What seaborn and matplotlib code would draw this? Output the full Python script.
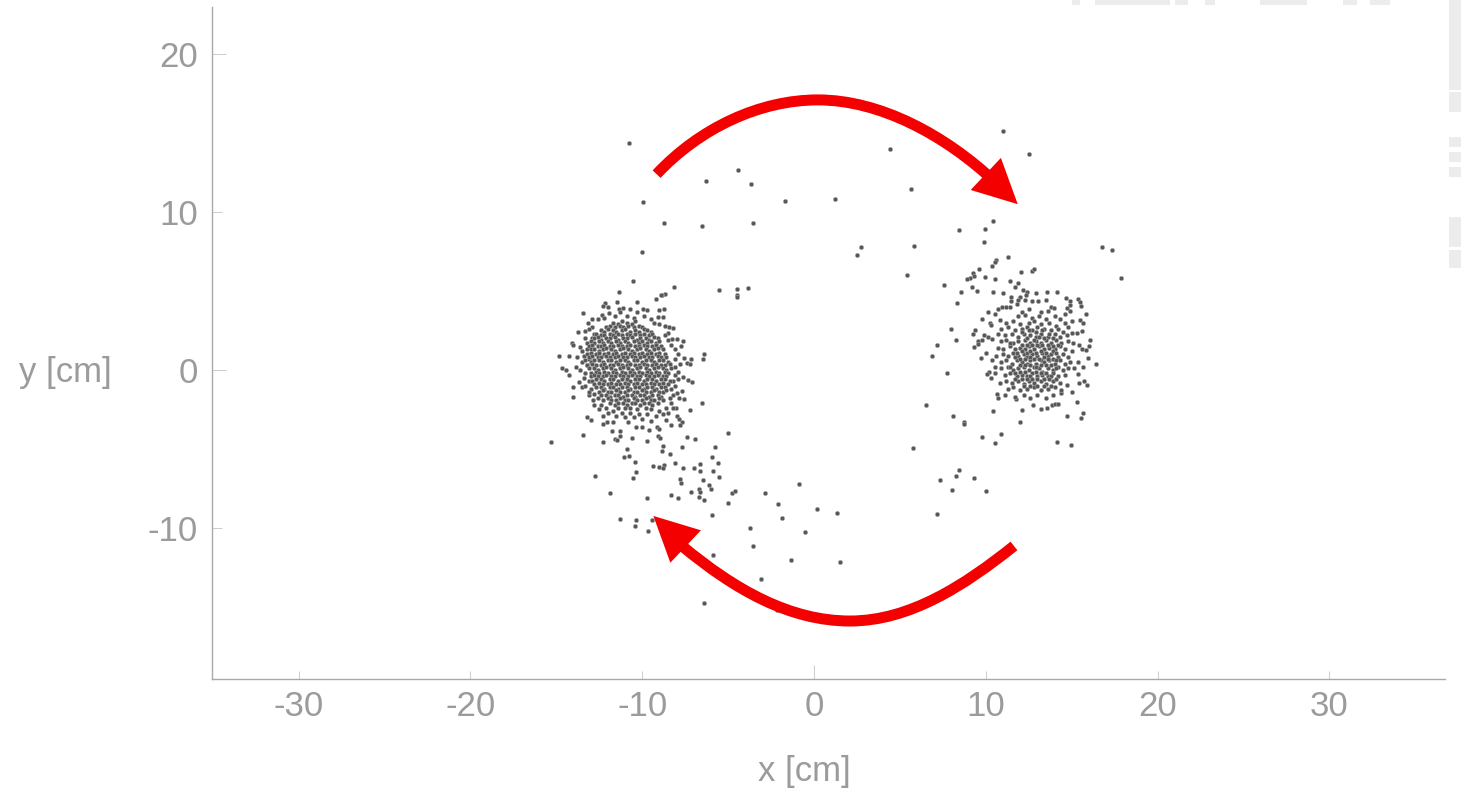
import matplotlib
matplotlib.use("Agg")
import matplotlib.pyplot as plt
from matplotlib.patches import PathPatch, Polygon, Rectangle
from matplotlib.path import Path
import pandas as pd
import seaborn as sns

# --- values (cm) ---
upper_sparse = [(-10.77,14.39),(4.42,13.97),(11.02,15.1),(12.51,13.65),(-6.29,11.96),(-4.4,12.66),(-3.67,11.77),
(-9.97,10.61),(-1.71,10.72),(1.22,10.82),(5.66,11.47),(-8.71,9.3),(-6.5,9.13),(-3.53,9.28),(8.44,8.86),(9.94,8.94),
(10.4,9.43),(9.88,8.12),(2.72,7.76),(2.52,7.26),(5.8,7.85),(-10.01,7.47),(16.78,7.78),(17.33,7.6),(17.87,5.84),
(5.43,6.01),(7.59,5.38),(-5.53,5.06),(-4.48,5.15),(-3.86,5.21),(-4.48,4.75),(-4.5,4.64)]

right_upper = [(11.29,7.15),(10.59,6.96),(10.54,6.85),(10.36,6.58),(9.59,6.37),(9.24,6.16),(9.31,5.97),(9.08,5.8),
(8.92,5.74),(9.95,5.87),(10.54,5.76),(12.05,6.22),(12.67,6.27),(12.81,6.39),(11.41,5.61),(11.87,5.53),(9.22,5.27),
(11.72,5.27),(8.57,4.94),(9.47,4.98),(10.4,4.94),(11.02,4.89),(12.18,5.06),(12.42,4.95),(12.92,4.89),(13.56,4.96),
(14.16,4.96)]

right_halo = [(8.3,4.22),(11.49,4.6),(11.49,4.39),(11.97,4.64),(11.89,4.41),(12.28,4.43),(12.34,4.75),(12.67,4.37),
(13.06,4.37),(13.48,4.43),(14.67,4.54),(14.9,4.39),(15.35,4.51),(15.5,4.28),(15.52,4.05),(15.83,3.56),(14.9,4.09),
(14.71,3.9),(14.9,3.75),(14.61,3.54),(13.78,4.01),(13.97,3.92),(13.64,3.75),(13.19,3.69),(12.53,3.86),(12.09,3.69),
(11.8,4.16),(11.41,4.01),(11.18,4.01),(10.96,3.96),(10.73,3.84),(10.54,3.54),(10.11,3.65),(9.8,3.23),(10.83,3.16),
(10.25,2.95),(10.28,2.83),(7.97,2.61),(9.37,2.51),(9.24,2.26),(8.27,1.92),(9.9,2.22),(10.15,2.11),(10.34,1.98),
(9.76,1.9),(9.53,1.85),(9.56,1.62),(9.31,1.44),(10.01,1.1),(9.72,0.74),(10.34,0.63),(10.54,0.21),(10.2,-0.11),
(10.09,-0.27),(10.28,-0.53),(10.54,-0.17),(10.63,-1.54),(10.73,-1.77),(8.11,-2.93),(8.73,-3.27),(8.73,-3.4),
(9.78,-4.22),(10.9,-4.03),(10.44,-2.57),(12.13,-2.55),(11.99,-3.29),(11.76,-1.86),(12.77,-2.22),(13.19,-2.49),
(13.58,-2.43),(13.84,-2.22),(14.03,-2.15),(14.22,-2.13),(14.73,-2.93),(15.52,-3.06),(15.66,-2.72),(15.29,-2.0),
(15.02,-1.37),(14.38,-1.47),(15.87,-0.97),(15.72,-0.72),(15.44,-0.8),(14.75,-0.97),(15.15,0.11),(15.39,-0.25),
(15.66,0.19),(16.39,0.36),(15.95,0.74),(15.39,0.49),(16.07,1.88),(15.99,1.5),(15.83,1.27),(15.6,1.33),(15.44,1.58),
(15.29,2.32),(15.58,2.47),(15.48,3.16),(15.68,2.99),(15.0,2.35),(14.8,2.7),(6.52,-2.2),(6.87,0.89),(7.16,1.58),
(7.74,-0.19),(5.76,-4.92),(10.52,-4.64),(14.13,-4.58),(14.96,-4.73),(8.46,-6.31),(8.25,-6.71),(7.35,-6.98),
(9.31,-6.86),(8.01,-7.61),(9.99,-7.66),(7.18,-9.09)]

right_core = [(11.9,3.4),(12.3,3.5),(12.7,3.3),(13.1,3.4),(13.5,3.2),(14.0,3.4),(14.3,3.2),
(11.2,3.0),(11.6,3.1),(12.0,2.9),(12.5,3.0),(12.8,3.1),(13.2,2.9),(13.7,3.0),(14.1,2.8),(14.6,3.0),(15.0,3.1),
(10.9,2.6),(11.3,2.7),(11.7,2.5),(12.1,2.6),(12.4,2.7),(12.7,2.5),(13.0,2.7),(13.4,2.6),(13.8,2.5),(14.2,2.6),(14.5,2.4),
(10.7,2.3),(11.1,2.2),(11.5,2.3),(11.9,2.1),(12.2,2.3),(12.6,2.2),(12.9,2.1),(13.2,2.3),(13.6,2.1),(14.0,2.3),(14.3,2.1),(14.7,2.2),
(10.9,1.8),(11.2,1.9),(11.6,1.7),(11.9,1.8),(12.3,1.9),(12.6,1.7),(12.9,1.8),(13.2,1.7),(13.5,1.9),(13.8,1.7),(14.1,1.9),(14.4,1.7),(14.8,1.8),(15.1,1.7),
(10.7,1.4),(11.0,1.3),(11.4,1.5),(11.7,1.3),(12.0,1.4),(12.3,1.3),(12.5,1.5),(12.8,1.3),(13.1,1.5),(13.4,1.3),(13.7,1.4),(14.0,1.3),(14.3,1.5),(14.6,1.3),(15.0,1.2),
(10.6,0.9),(11.0,1.0),(11.3,0.9),(11.6,1.1),(11.9,0.9),(12.2,1.0),(12.4,0.8),(12.7,1.0),(13.0,0.9),(13.3,1.1),(13.6,0.9),(13.8,1.0),(14.2,0.8),(14.5,1.0),(14.8,0.8),
(10.9,0.5),(11.2,0.6),(11.5,0.4),(11.8,0.6),(12.1,0.5),(12.4,0.4),(12.6,0.6),(12.9,0.4),(13.2,0.6),(13.4,0.5),(13.7,0.6),(14.0,0.4),(14.3,0.6),(14.6,0.4),(14.9,0.5),
(10.9,0.1),(11.3,0.2),(11.6,0.0),(11.9,0.1),(12.2,0.2),(12.5,0.0),(12.8,0.2),(13.1,0.1),(13.3,-0.1),(13.6,0.1),(13.9,0.0),(14.2,0.2),(14.5,0.0),(14.8,0.1),
(11.1,-0.3),(11.4,-0.2),(11.8,-0.4),(12.1,-0.3),(12.4,-0.4),(12.7,-0.2),(13.0,-0.4),(13.3,-0.3),(13.6,-0.4),(13.9,-0.2),(14.2,-0.4),(14.6,-0.3),
(10.8,-0.8),(11.2,-0.7),(11.5,-0.8),(11.9,-0.7),(12.2,-0.9),(12.5,-0.7),(12.8,-0.8),(13.2,-0.7),(13.5,-0.9),(13.9,-0.7),(14.3,-0.8),
(11.3,-1.2),(11.6,-1.1),(12.0,-1.3),(12.4,-1.2),(12.8,-1.1),(13.2,-1.3),(13.6,-1.2),(14.0,-1.1),(14.4,-1.3),
(11.1,-1.6),(11.7,-1.7),(12.2,-1.6),(12.6,-1.8),(13.0,-1.6),(13.5,-1.8),(13.9,-1.6)]

right_core_inner = [(12.1,2.4),(12.5,2.5),(12.9,2.4),(13.3,2.5),(13.7,2.3),(12.4,2.0),(12.8,1.9),(13.1,2.1),(13.4,2.0),(13.9,2.0),
(11.4,1.7),(12.1,1.6),(12.4,1.6),(12.7,1.6),(13.0,1.6),(13.3,1.6),(13.6,1.6),(13.9,1.5),(14.2,1.6),
(11.8,1.1),(12.1,1.2),(12.4,1.1),(12.6,1.2),(12.9,1.1),(13.2,1.2),(13.5,1.1),(13.9,1.2),(14.1,1.1),
(11.7,0.8),(12.0,0.7),(12.3,0.7),(12.6,0.8),(12.8,0.7),(13.1,0.7),(13.4,0.8),(13.6,0.7),(13.9,0.7),(14.1,0.6),
(11.4,0.2),(12.0,0.3),(12.3,0.3),(12.6,0.3),(12.9,0.2),(13.2,0.3),(13.5,0.3),(13.8,0.3),(14.1,0.1),
(11.7,-0.2),(12.0,-0.1),(12.3,-0.1),(12.6,-0.4),(12.9,-0.1),(13.2,-0.2),(13.5,-0.2),(13.8,-0.4),
(11.7,-0.6),(12.1,-0.6),(12.4,-0.6),(12.7,-0.6),(13.0,-0.6),(13.4,-0.6),(13.7,-0.6),(14.1,-0.6),
(12.2,-1.0),(12.6,-1.0),(13.0,-1.0),(13.4,-1.0),(13.8,-1.0)]

left_halo = [(-11.35,4.94),(-8.7,4.81),(-8.85,4.75),(-8.13,5.27),(-10.55,5.61),(-8.92,4.73),(-9.2,4.47),(-12.17,4.22),
(-12.26,4.05),(-11.49,4.28),(-10.3,4.28),(-11.97,3.97),(-11.1,3.9),(-11.35,3.86),(-10.71,3.84),(-9.97,3.84),(-9.7,3.8),
(-9.0,3.8),(-8.73,3.88),(-13.45,3.63),(-12.36,3.48),(-11.93,3.59),(-11.29,3.69),(-10.32,3.69),(-12.94,3.21),(-13.14,2.99),
(-9.06,3.37),(-8.77,3.33),(-12.94,2.74),(-13.72,2.42),(-13.33,2.47),(-8.42,2.7),(-8.19,2.64),(-8.48,2.36),(-14.07,1.69),
(-14.01,1.56),(-13.62,1.47),(-7.6,1.83),(-7.99,1.94),(-8.26,1.94),(-7.76,1.52),(-14.84,0.91),(-14.26,0.91),(-13.81,0.8),
(-6.42,1.03),(-6.48,0.72),(-7.16,0.7),(-7.57,0.78),(-7.41,0.46),(-7.22,0.36),(-14.69,0.13),(-14.45,0.0),(-14.26,-0.32),
(-13.85,0.21),(-7.6,-0.46),(-7.35,-0.63),(-7.1,-0.76),(-14.01,-1.05),(-13.68,-0.74),(-13.52,-1.1),(-14.01,-1.69),
(-7.7,-1.31),(-7.99,-1.44),(-7.57,-1.86),(-7.84,-1.77),(-6.54,-2.09),(-13.08,-1.58),(-12.85,-1.9),(-7.22,-2.53),
(-8.03,-2.42),(-7.96,-2.89),(-7.86,-3.12),(-13.2,-2.97),(-13.0,-3.18),(-12.3,-2.89),(-12.3,-3.44),(-12.07,-3.27),
(-11.68,-3.27),(-11.78,-3.88),(-11.29,-3.86),(-10.81,-3.27),(-10.36,-3.59),(-10.03,-3.63),(-9.59,-3.8),(-9.16,-3.63),
(-8.61,-3.16),(-8.34,-3.5),(-7.68,-3.27),(-7.8,-3.48),(-9.02,-3.75),(-9.1,-4.18),(-8.96,-4.32),(-7.41,-4.22),(-6.91,-4.35),
(-5.02,-3.99),(-13.46,-4.11),(-15.33,-4.56),(-12.26,-4.56),(-11.58,-4.37),(-11.45,-4.45),(-11.29,-4.16),(-10.61,-4.32),
(-9.74,-4.49)]

left_ring = [(-12.6,3.2),(-12.2,3.3),(-11.6,3.4),(-10.9,3.4),(-10.5,3.3),(-9.9,3.4),(-9.5,3.2),(-9.3,3.0),(-9.0,2.9),(-8.7,2.8),
(-13.1,2.6),(-12.8,2.3),(-12.9,2.0),(-13.3,2.0),(-13.2,1.7),(-13.5,1.2),(-13.2,1.3),(-13.4,0.9),(-13.1,0.7),(-13.5,0.5),(-13.2,0.3),
(-13.6,0.0),(-13.3,-0.2),(-13.4,-0.5),(-13.1,-0.7),(-13.3,-1.0),(-13.0,-1.2),(-13.1,-1.4),(-12.8,-1.5),(-12.6,-1.8),(-12.8,-2.2),
(-12.4,-2.2),(-12.5,-2.5),(-12.1,-2.4),(-12.0,-2.7),(-11.7,-2.6),(-11.5,-2.9),(-11.2,-2.7),(-11.0,-3.0),(-10.7,-2.7),(-10.5,-3.0),
(-10.2,-2.8),(-10.0,-3.1),(-9.7,-2.8),(-9.5,-3.2),(-9.2,-2.9),(-9.0,-2.6),(-8.8,-2.8),(-8.6,-2.4),(-8.5,-2.7),(-8.3,-2.1),(-8.2,-2.4),
(-8.4,-1.8),(-8.2,-1.6),(-8.3,-1.2),(-8.1,-1.0),(-8.2,-0.7),(-7.9,-0.6),(-8.1,-0.3),(-7.9,-0.1),(-8.1,0.2),(-7.8,0.4),(-8.1,0.7),
(-7.9,1.0),(-8.1,1.3),(-8.3,1.6),(-8.5,1.9),(-8.7,2.2)]

left_core = [(-11.7,3.0),(-11.4,2.9),(-11.2,3.1),(-10.9,3.0),(-10.6,2.9),(-10.4,3.1),
(-12.1,2.7),(-11.9,2.8),(-11.6,2.7),(-11.3,2.8),(-11.1,2.7),(-10.8,2.8),(-10.5,2.7),(-10.2,2.8),(-10.0,2.7),
(-12.4,2.5),(-12.2,2.4),(-12.0,2.6),(-11.7,2.5),(-11.5,2.4),(-11.2,2.5),(-11.0,2.6),(-10.7,2.4),(-10.4,2.5),(-10.2,2.4),(-9.9,2.6),(-9.7,2.5),(-9.5,2.4),
(-12.7,2.3),(-12.4,2.2),(-12.2,2.2),(-11.9,2.3),(-11.7,2.2),(-11.4,2.3),(-11.2,2.2),(-10.9,2.3),(-10.7,2.2),(-10.4,2.3),(-10.1,2.2),(-9.9,2.3),(-9.6,2.2),(-9.4,2.3),
(-12.8,2.0),(-12.6,2.1),(-12.4,1.9),(-12.1,2.0),(-11.9,2.0),(-11.6,2.1),(-11.4,1.9),(-11.1,2.0),(-10.9,2.0),(-10.6,2.1),(-10.3,1.9),(-10.1,2.0),(-9.8,2.0),(-9.6,1.9),(-9.3,2.1),(-9.1,2.0),
(-13.0,1.8),(-12.8,1.7),(-12.5,1.8),(-12.3,1.7),(-12.0,1.8),(-11.8,1.7),(-11.5,1.8),(-11.3,1.7),(-11.0,1.8),(-10.8,1.7),(-10.5,1.8),(-10.2,1.7),(-10.0,1.8),(-9.7,1.7),(-9.5,1.8),(-9.2,1.7),(-9.0,1.8),
(-13.1,1.5),(-12.9,1.6),(-12.6,1.5),(-12.4,1.5),(-12.2,1.6),(-11.9,1.5),(-11.7,1.5),(-11.4,1.6),(-11.2,1.5),(-10.9,1.5),(-10.7,1.6),(-10.4,1.5),(-10.2,1.5),(-9.9,1.6),(-9.7,1.5),(-9.4,1.5),(-9.2,1.6),(-8.9,1.5),
(-13.0,1.3),(-12.8,1.3),(-12.5,1.2),(-12.3,1.3),(-12.1,1.4),(-11.8,1.3),(-11.6,1.2),(-11.3,1.3),(-11.1,1.4),(-10.8,1.3),(-10.6,1.2),(-10.3,1.3),(-10.1,1.4),(-9.8,1.3),(-9.6,1.2),(-9.3,1.3),(-9.1,1.4),(-8.8,1.3),
(-13.2,1.0),(-13.0,1.1),(-12.7,1.0),(-12.5,1.1),(-12.2,1.0),(-12.0,1.1),(-11.7,1.0),(-11.5,1.1),(-11.2,1.0),(-11.0,1.1),(-10.7,1.0),(-10.5,1.1),(-10.2,1.0),(-10.0,1.1),(-9.7,1.0),(-9.5,1.1),(-9.2,1.0),(-9.0,1.1),(-8.7,1.0),
(-13.1,0.8),(-12.9,0.9),(-12.6,0.8),(-12.4,0.8),(-12.1,0.9),(-11.9,0.8),(-11.6,0.8),(-11.4,0.9),(-11.1,0.8),(-10.9,0.8),(-10.6,0.9),(-10.4,0.8),(-10.1,0.8),(-9.9,0.9),(-9.6,0.8),(-9.4,0.8),(-9.1,0.9),(-8.9,0.8),(-8.6,0.8),
(-13.3,0.6),(-13.0,0.5),(-12.8,0.6),(-12.5,0.6),(-12.3,0.5),(-12.0,0.6),(-11.8,0.6),(-11.5,0.5),(-11.3,0.6),(-11.0,0.6),(-10.8,0.5),(-10.5,0.6),(-10.3,0.6),(-10.0,0.5),(-9.8,0.6),(-9.5,0.6),(-9.3,0.5),(-9.0,0.6),(-8.8,0.6),(-8.5,0.5),
(-13.2,0.3),(-12.9,0.4),(-12.7,0.3),(-12.4,0.3),(-12.2,0.4),(-11.9,0.3),(-11.7,0.3),(-11.4,0.4),(-11.2,0.3),(-10.9,0.3),(-10.7,0.4),(-10.4,0.3),(-10.2,0.3),(-9.9,0.4),(-9.7,0.3),(-9.4,0.3),(-9.2,0.4),(-8.9,0.3),(-8.7,0.3),(-8.4,0.4),
(-13.1,0.1),(-12.8,0.1),(-12.6,0.0),(-12.3,0.1),(-12.1,0.2),(-11.8,0.1),(-11.6,0.0),(-11.3,0.1),(-11.1,0.2),(-10.8,0.1),(-10.6,0.0),(-10.3,0.1),(-10.1,0.2),(-9.8,0.1),(-9.6,0.0),(-9.3,0.1),(-9.1,0.2),(-8.8,0.1),(-8.6,0.0),(-8.3,0.1),
(-13.0,-0.2),(-12.7,-0.1),(-12.5,-0.2),(-12.2,-0.1),(-12.0,-0.2),(-11.7,-0.1),(-11.5,-0.2),(-11.2,-0.1),(-11.0,-0.2),(-10.7,-0.1),(-10.5,-0.2),(-10.2,-0.1),(-10.0,-0.2),(-9.7,-0.1),(-9.5,-0.2),(-9.2,-0.1),(-9.0,-0.2),(-8.7,-0.1),(-8.5,-0.2),
(-13.0,-0.4),(-12.8,-0.3),(-12.6,-0.4),(-12.3,-0.4),(-12.1,-0.3),(-11.8,-0.4),(-11.6,-0.4),(-11.3,-0.3),(-11.1,-0.4),(-10.8,-0.4),(-10.6,-0.3),(-10.3,-0.4),(-10.1,-0.4),(-9.8,-0.3),(-9.6,-0.4),(-9.3,-0.4),(-9.1,-0.3),(-8.8,-0.4),(-8.6,-0.4),
(-12.9,-0.7),(-12.7,-0.6),(-12.4,-0.6),(-12.2,-0.7),(-11.9,-0.6),(-11.7,-0.6),(-11.4,-0.7),(-11.2,-0.6),(-10.9,-0.6),(-10.7,-0.7),(-10.4,-0.6),(-10.2,-0.6),(-9.9,-0.7),(-9.7,-0.6),(-9.4,-0.6),(-9.2,-0.7),(-8.9,-0.6),(-8.7,-0.6),(-8.4,-0.7),
(-12.8,-0.9),(-12.5,-0.8),(-12.3,-0.9),(-12.0,-0.9),(-11.8,-0.8),(-11.5,-0.9),(-11.3,-0.9),(-11.0,-0.8),(-10.8,-0.9),(-10.5,-0.9),(-10.3,-0.8),(-10.0,-0.9),(-9.8,-0.9),(-9.5,-0.8),(-9.3,-0.9),(-9.0,-0.9),(-8.8,-0.8),(-8.5,-0.9),
(-12.7,-1.1),(-12.4,-1.1),(-12.2,-1.2),(-11.9,-1.1),(-11.7,-1.1),(-11.4,-1.2),(-11.2,-1.1),(-10.9,-1.1),(-10.7,-1.2),(-10.4,-1.1),(-10.2,-1.1),(-9.9,-1.2),(-9.7,-1.1),(-9.4,-1.1),(-9.2,-1.2),(-8.9,-1.1),(-8.7,-1.1),
(-12.5,-1.4),(-12.3,-1.3),(-12.0,-1.4),(-11.8,-1.4),(-11.5,-1.3),(-11.3,-1.4),(-11.0,-1.4),(-10.8,-1.3),(-10.5,-1.4),(-10.3,-1.4),(-10.0,-1.3),(-9.8,-1.4),(-9.5,-1.4),(-9.3,-1.3),(-9.0,-1.4),(-8.8,-1.4),(-8.6,-1.3),
(-12.4,-1.6),(-12.1,-1.6),(-11.9,-1.7),(-11.6,-1.6),(-11.4,-1.6),(-11.1,-1.7),(-10.9,-1.6),(-10.6,-1.6),(-10.4,-1.7),(-10.1,-1.6),(-9.9,-1.6),(-9.6,-1.7),(-9.4,-1.6),(-9.1,-1.6),(-8.9,-1.7),
(-12.3,-1.9),(-12.0,-1.8),(-11.8,-1.9),(-11.5,-1.9),(-11.3,-1.8),(-11.0,-1.9),(-10.8,-1.9),(-10.5,-1.8),(-10.3,-1.9),(-10.0,-1.9),(-9.8,-1.8),(-9.5,-1.9),(-9.3,-1.9),(-9.0,-1.8),(-8.8,-1.9),
(-11.9,-2.1),(-11.6,-2.2),(-11.4,-2.1),(-11.1,-2.1),(-10.9,-2.2),(-10.6,-2.1),(-10.4,-2.1),(-10.1,-2.2),(-9.9,-2.1),(-9.6,-2.1),(-9.4,-2.2),(-9.1,-2.1),
(-11.4,-2.4),(-11.0,-2.4),(-10.7,-2.4),(-10.3,-2.5),(-9.8,-2.4),(-9.5,-2.5)]

lower_sparse = [(-10.87,-5.02),(-11.08,-5.51),(-10.75,-5.44),(-10.42,-5.8),(-8.77,-4.81),(-8.83,-5.11),(-8.38,-5.3),
(-7.67,-4.87),(-5.75,-4.85),(-5.95,-5.53),(-5.61,-5.87),(-8.09,-5.87),(-6.64,-5.93),(-9.39,-6.08),(-9.02,-6.12),(-8.73,-6.01),
(-8.81,-6.18),(-7.6,-6.22),(-6.97,-6.22),(-6.64,-6.41),(-5.9,-6.39),(-5.51,-6.77),(-6.46,-6.96),(-10.38,-6.44),(-10.54,-6.81),
(-12.73,-6.71),(-11.87,-7.76),(-9.7,-8.12),(-8.34,-7.89),(-7.9,-8.08),(-7.8,-6.92),(-7.72,-7.15),(-7.14,-7.74),(-6.68,-7.55),
(-6.64,-7.74),(-6.71,-8.04),(-6.42,-8.25),(-6.09,-7.26),(-5.98,-7.51),(-4.77,-7.8),(-4.6,-7.68),(-5.01,-8.42),(-2.87,-7.77),
(-5.92,-9.18),(-11.31,-9.45),(-10.38,-9.51),(-10.4,-9.89),(-9.45,-9.51),(-9.68,-10.17),(-3.74,-9.98),(-3.53,-11.12),
(-5.9,-11.71),(-3.1,-13.23),(-6.42,-14.77),(-2.11,-8.46),(0.19,-8.78),(1.32,-9.07),(-1.88,-9.39),(-0.54,-10.27),
(-1.34,-12.0),(1.53,-12.15),(-2.15,-15.2),(-0.9,-7.2)]

arrow_top_xy = [(-9.16,12.39),(-6.64,15.32),(-3.14,17.09),(0.23,17.09),(3.84,17.09),(7.63,14.87),(10.54,11.9)]
arrow_top_head = [(11.86,10.49),(10.88,13.42),(9.12,11.39)]
arrow_bottom_xy = [(11.64,-11.14),(8.79,-13.61),(5.59,-15.89),(2.1,-15.89),(-1.4,-15.89),(-4.6,-13.92),(-7.68,-11.14)]
arrow_bottom_head = [(-9.35,-9.24),(-6.58,-10.15),(-8.36,-12.2)]

x_ticks = [-30, -20, -10, 0, 10, 20, 30]
y_ticks = [-10, 0, 10, 20]
x_label = "x [cm]"
y_label = "y [cm]"

TEXT = "#9b9b9b"
AXIS = "#a9a9a9"
RED = "#f40000"

sns.set_theme(style="white")
plt.rcParams["font.family"] = ["Liberation Sans", "DejaVu Sans"]
plt.rcParams["axes.unicode_minus"] = False

W, H = 1461, 790
fig = plt.figure(figsize=(W / 100, H / 100), dpi=100, facecolor="white")
ax = fig.add_axes([212 / W, (H - 679) / H, 1233 / W, 672 / H])
ax.patch.set_alpha(0)

groups = [upper_sparse, right_upper, right_halo, right_core, right_core_inner, left_halo, left_ring, left_core, lower_sparse]
pts = [p for g in groups for p in g]
df = pd.DataFrame(pts, columns=["x", "y"])
sns.scatterplot(data=df, x="x", y="y", ax=ax, s=9.5, color="#565656", edgecolor="#a8a8a8",
                linewidth=0.4, legend=False, zorder=2, clip_on=False)

ax.set_xlim(-35.04, 36.73)
ax.set_ylim(-19.56, 22.97)
sns.despine(ax=ax)
for side in ("left", "bottom"):
    ax.spines[side].set_color(AXIS)
    ax.spines[side].set_linewidth(1.0)

ax.set_xticks(x_ticks)
ax.set_xticklabels([str(v) for v in x_ticks])
ax.set_yticks(y_ticks)
ax.set_yticklabels([str(v) for v in y_ticks])
ax.tick_params(axis="x", direction="in", length=5.5, width=0.7, color="#cccccc",
               labelsize=25, labelcolor=TEXT, pad=8, bottom=True)
ax.tick_params(axis="y", direction="in", length=7.5, width=0.7, color="#cccccc",
               labelsize=25, labelcolor=TEXT, pad=10, left=True)
for t, v in zip(ax.xaxis.get_major_ticks(), x_ticks):
    if v == 0:
        t.tick1line.set_markersize(10)
        t.tick1line.set_color(AXIS)
for t, v in zip(ax.yaxis.get_major_ticks(), y_ticks):
    if v in (0, 20):
        t.tick1line.set_markersize(10)
        t.tick1line.set_color(AXIS)
ax.set_xlabel("")
ax.set_ylabel("")
fig.text(804 / W, 1 - 772 / H, x_label, fontsize=25, color=TEXT, ha="center", va="center")
fig.text(65 / W, 1 - 372 / H, y_label, fontsize=25, color=TEXT, ha="center", va="center")

# red circulation arrows
codes = [Path.MOVETO] + [Path.CURVE4] * 6
for shaft, head in ((arrow_top_xy, arrow_top_head), (arrow_bottom_xy, arrow_bottom_head)):
    ax.add_patch(PathPatch(Path(shaft, codes), fill=False, edgecolor=RED, lw=7.9, capstyle="butt", zorder=5))
    ax.add_patch(Polygon(head, closed=True, facecolor=RED, edgecolor="none", zorder=6))

# faint clipped backdrop marks along the top and right edges
for x0, x1 in [(1072, 1080), (1095, 1170), (1175, 1188), (1205, 1215), (1260, 1307), (1343, 1357), (1370, 1390)]:
    fig.add_artist(Rectangle((x0 / W, 1 - 5 / H), (x1 - x0) / W, 5 / H, transform=fig.transFigure,
                             facecolor="#ececec", edgecolor="none"))
for y0, y1 in [(0, 90), (92, 112), (137, 147), (152, 162), (167, 177), (217, 247), (250, 268)]:
    fig.add_artist(Rectangle((1449 / W, 1 - y1 / H), 12 / W, (y1 - y0) / H, transform=fig.transFigure,
                             facecolor="#ececec", edgecolor="none"))

fig.savefig("out.png", dpi=100, facecolor="white")
